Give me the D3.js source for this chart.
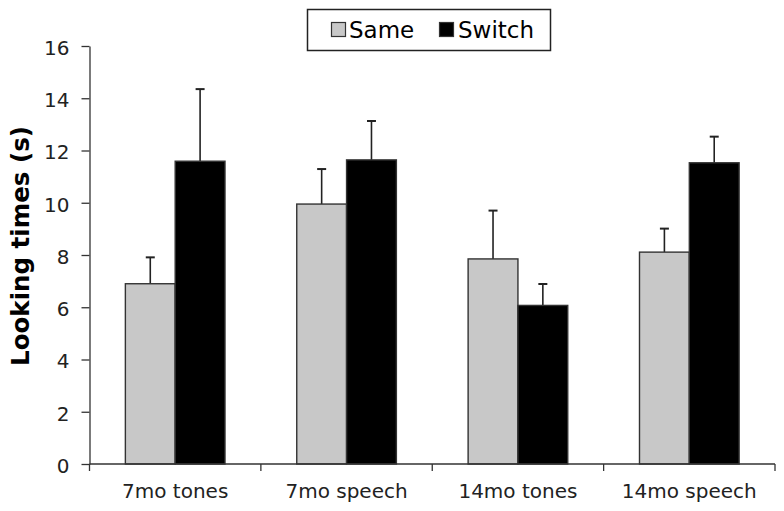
<!DOCTYPE html>
<html>
<head>
<meta charset="utf-8">
<script src="https://cdn.jsdelivr.net/npm/d3@7"></script>
<style>
  html, body { margin: 0; padding: 0; background: #fff; }
  svg { display: block; font-family: Verdana, "DejaVu Sans", sans-serif; }
</style>
</head>
<body>
<svg id="chart" width="784" height="511"></svg>
<script>
const categories = ["7mo tones", "7mo speech", "14mo tones", "14mo speech"];
const seriesNames = ["Same", "Switch"];
const sameValues = [6.90, 9.95, 7.85, 8.11];
const sameErrors = [1.01, 1.34, 1.85, 0.90];
const switchValues = [11.59, 11.64, 6.07, 11.53];
const switchErrors = [2.76, 1.49, 0.82, 1.00];
const yTicks = [0, 2, 4, 6, 8, 10, 12, 14, 16];
const yTitle = "Looking times (s)";

(function () {
const colors = { "Same": "#c8c8c8", "Switch": "#000000" };
const valuesBySeries = { "Same": sameValues, "Switch": switchValues };
const errorsBySeries = { "Same": sameErrors, "Switch": switchErrors };

const svg = d3.select("#chart");
const plotLeft = 89.5, plotRight = 775, plotTop = 46, plotBottom = 464;

const x0 = d3.scaleBand().domain(categories).range([plotLeft, plotRight]).padding(0);
const x1 = d3.scaleBand().domain(seriesNames).range([0, x0.bandwidth()])
  .paddingInner(0).paddingOuter(0.72);
const y = d3.scaleLinear().domain([0, 16]).range([plotBottom, plotTop]);

const rows = [];
categories.forEach((c, i) => {
  seriesNames.forEach(s => {
    rows.push({ cat: c, series: s, value: valuesBySeries[s][i], err: errorsBySeries[s][i] });
  });
});

// Error bars
const eb = svg.append("g");
rows.forEach(d => {
  const cx = x0(d.cat) + x1(d.series) + x1.bandwidth() / 2;
  eb.append("line")
    .attr("x1", cx).attr("x2", cx)
    .attr("y1", y(d.value)).attr("y2", y(d.value + d.err))
    .attr("stroke", "#222").attr("stroke-width", 1.6);
  eb.append("line")
    .attr("x1", cx - 4.5).attr("x2", cx + 4.5)
    .attr("y1", y(d.value + d.err)).attr("y2", y(d.value + d.err))
    .attr("stroke", "#222").attr("stroke-width", 2);
});

// Bars
svg.append("g").selectAll("rect").data(rows).join("rect")
  .attr("x", d => x0(d.cat) + x1(d.series))
  .attr("y", d => y(d.value))
  .attr("width", x1.bandwidth())
  .attr("height", d => y(0) - y(d.value))
  .attr("fill", d => colors[d.series])
  .attr("stroke", "#333")
  .attr("stroke-width", 1.4);

// Y axis
const yAxis = svg.append("g")
  .attr("transform", `translate(${plotLeft},0)`)
  .call(d3.axisLeft(y).tickValues(yTicks).tickSize(8).tickSizeOuter(0).tickPadding(12));
yAxis.select(".domain").attr("stroke", "#333").attr("stroke-width", 1.3);
yAxis.selectAll(".tick line").attr("stroke", "#333").attr("stroke-width", 1.3);
yAxis.selectAll(".tick text")
  .attr("font-size", "20px").attr("fill", "#222").attr("dy", "0.42em")
  .attr("font-family", "Verdana, 'DejaVu Sans', sans-serif");

// X axis
const xg = svg.append("g");
xg.append("line")
  .attr("x1", plotLeft).attr("x2", plotRight)
  .attr("y1", plotBottom).attr("y2", plotBottom)
  .attr("stroke", "#333").attr("stroke-width", 1.3);
const boundaries = categories.map(c => x0(c)).concat([x0.range()[1]]);
xg.selectAll("line.tk").data(boundaries).join("line")
  .attr("class", "tk")
  .attr("x1", d => d).attr("x2", d => d)
  .attr("y1", plotBottom).attr("y2", plotBottom + 7)
  .attr("stroke", "#333").attr("stroke-width", 1.3);
xg.selectAll("text").data(categories).join("text")
  .attr("x", d => x0(d) + x0.bandwidth() / 2)
  .attr("y", 498)
  .attr("text-anchor", "middle")
  .attr("font-size", "20px")
  .attr("fill", "#222")
  .text(d => d);

// Y title
svg.append("text")
  .attr("transform", "translate(29,246) rotate(-90)")
  .attr("text-anchor", "middle")
  .attr("font-size", "24.5px")
  .attr("font-weight", "bold")
  .attr("fill", "#000")
  .text(yTitle);

// Legend
const lg = svg.append("g");
lg.append("rect")
  .attr("x", 307.5).attr("y", 9.5).attr("width", 243).attr("height", 41)
  .attr("fill", "#fff").attr("stroke", "#222").attr("stroke-width", 1.5);
const legendPos = [{ s: "Same", sx: 331, tx: 349 }, { s: "Switch", sx: 439, tx: 458 }];
legendPos.forEach(p => {
  lg.append("rect")
    .attr("x", p.sx + 0.5).attr("y", 22.5).attr("width", 14).attr("height", 14)
    .attr("fill", colors[p.s]).attr("stroke", "#333").attr("stroke-width", 1.2);
  lg.append("text")
    .attr("x", p.tx).attr("y", 38)
    .attr("font-size", "23px").attr("fill", "#000")
    .text(p.s);
});
})();
</script>
</body>
</html>
